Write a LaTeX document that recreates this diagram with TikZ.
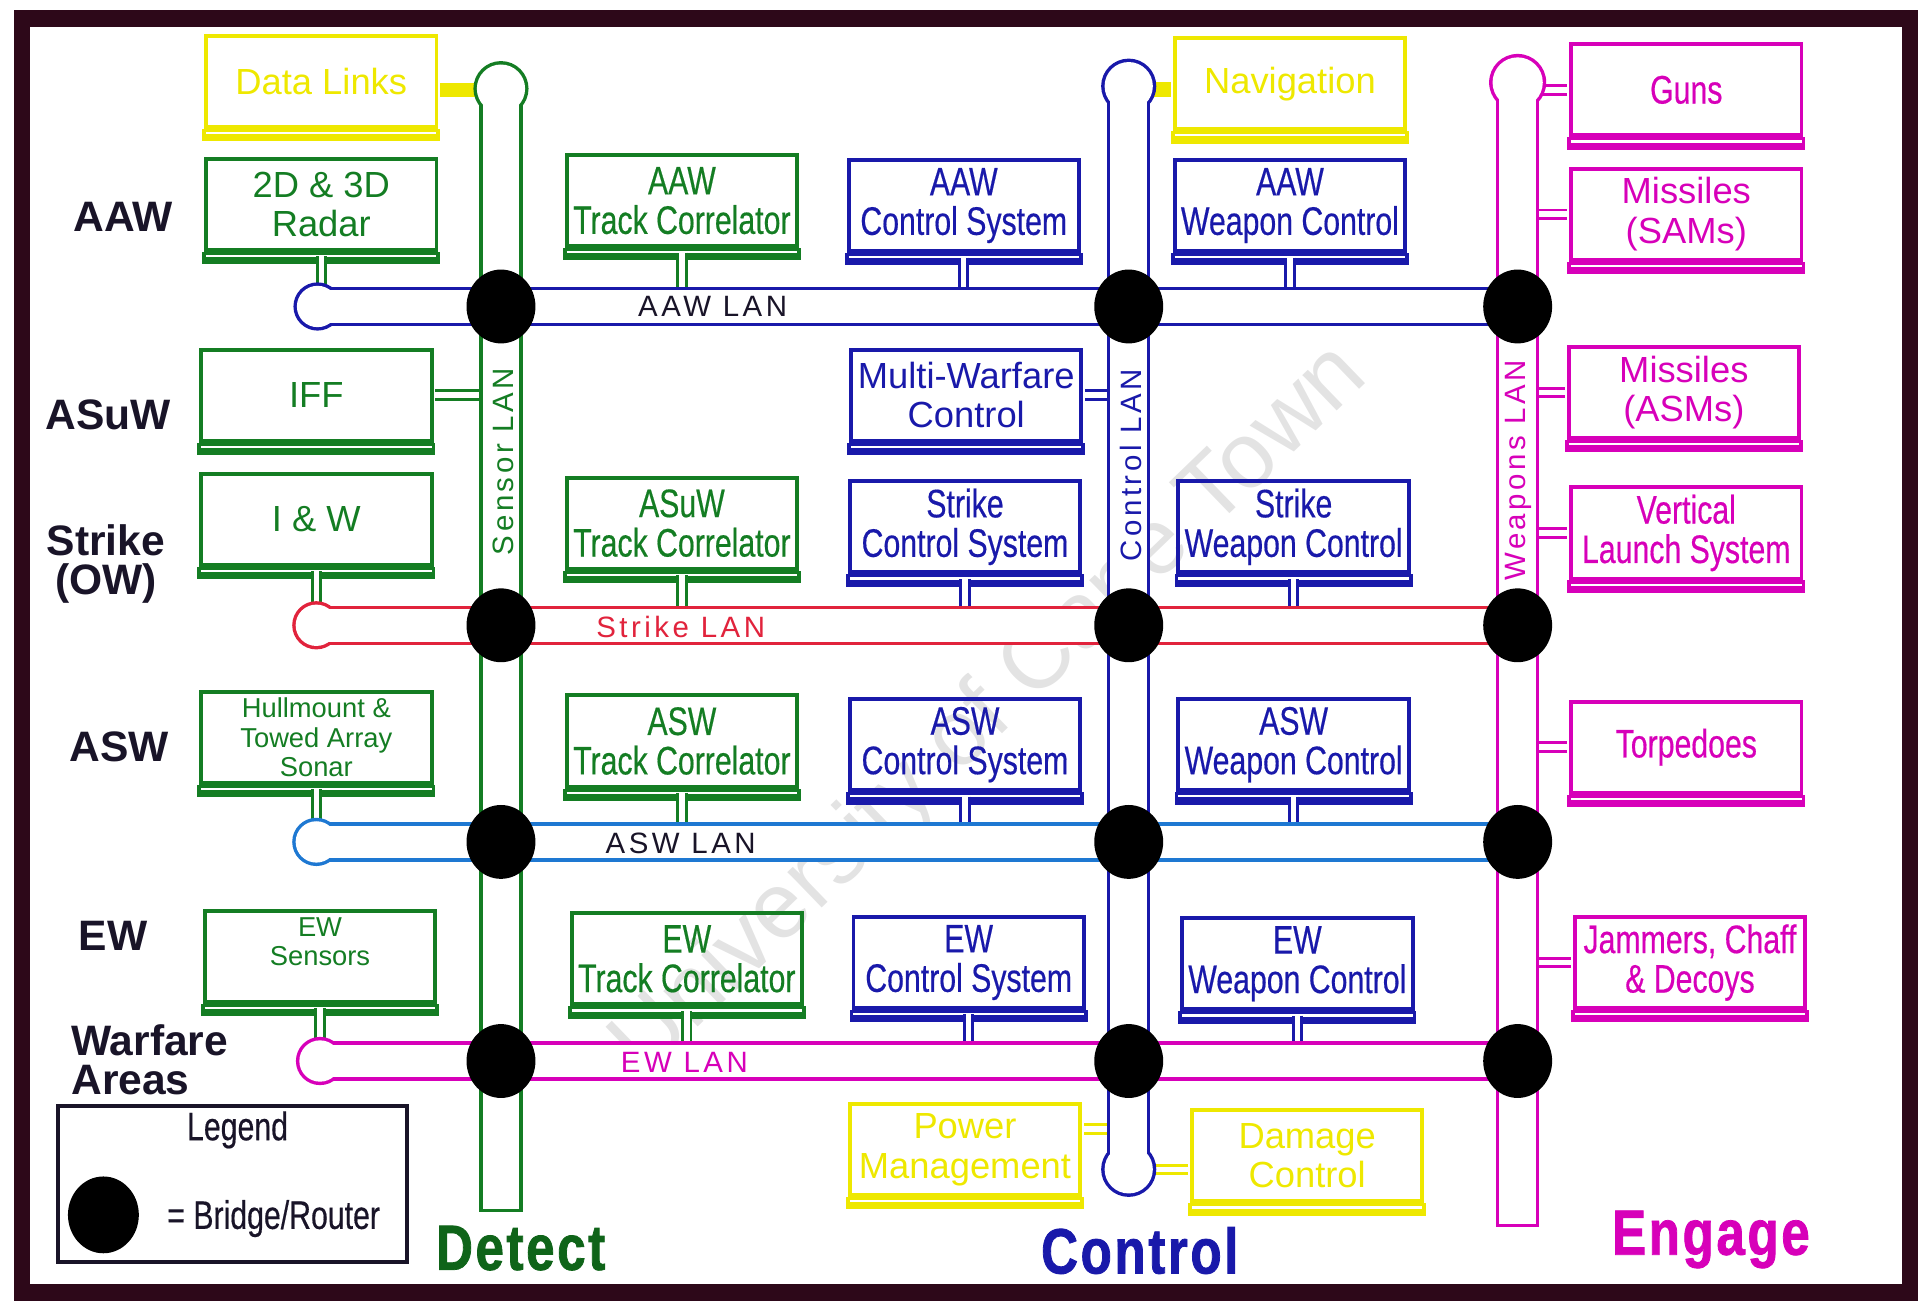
\documentclass[tikz,border=0pt]{standalone}
\usepackage{fontspec}
\setmainfont{Liberation Sans}
\newfontfamily\narrowfont[FakeStretch=0.76,FakeBold=0.4]{Liberation Sans}
\newfontfamily\lanfont[LetterSpace=12]{Liberation Sans}
\newfontfamily\headfont[FakeStretch=0.8,LetterSpace=4,FakeBold=1.2]{Liberation Sans}
\usetikzlibrary{shapes.geometric}

\definecolor{grn}{RGB}{20,125,35}
\definecolor{detgrn}{RGB}{15,100,25}
\definecolor{blu}{RGB}{25,25,170}
\definecolor{ylw}{RGB}{238,232,0}
\definecolor{mag}{RGB}{215,0,185}
\definecolor{rd}{RGB}{225,35,60}
\definecolor{ltblu}{RGB}{30,120,210}
\definecolor{ink}{RGB}{25,20,40}
\definecolor{framecol}{RGB}{45,8,25}

\newcommand\boxfont{\narrowfont\fontsize{11.5}{11.4}\selectfont}
\newcommand\bigboxfont{\normalfont\fontsize{10.5}{11.4}\selectfont}
\newcommand\smallboxfont{\normalfont\fontsize{7.9}{8.4}\selectfont}
\newcommand\rowfont{\bfseries\fontsize{12.3}{11.4}\selectfont}
\newcommand\lanfontsize{\lanfont\fontsize{8.5}{9}\selectfont}
\newcommand\colfont{\headfont\bfseries\fontsize{18.5}{20}\selectfont}

\begin{document}
\begin{tikzpicture}[x=0.125mm, y=-0.125mm,
  sysbox/.style={draw=#1, text=#1, line width=0.4mm, minimum width=23.4mm, minimum height=9.25mm,
    inner sep=1pt, align=center, font=\boxfont,
    append after command={\pgfextra{
      \fill[#1] ([xshift=-0.2mm]\tikzlastnode.south west) rectangle ([xshift=0.2mm,yshift=-1.25mm]\tikzlastnode.south east);
      \draw[white, line width=0.22mm] ([xshift=0.2mm,yshift=-0.42mm]\tikzlastnode.south west) -- ([xshift=-0.2mm,yshift=-0.42mm]\tikzlastnode.south east);}}},
  stub/.style={draw=#1, line width=0.3mm, double=white, double distance=0.55mm},
  link/.style={draw=#1, line width=1.5mm},
  hpipe/.style={draw=#1, line width=4mm},
  vpipe/.style={draw=#1, line width=4.4mm},
  pipein/.style={draw=white, line width=#1},
  router/.style={ellipse, fill=black, minimum width=7mm, minimum height=7.5mm, inner sep=0pt},
  rowlabel/.style={font=\rowfont, text=ink, align=center},
  lanlabel/.style={font=\lanfontsize, text=#1, inner sep=0pt},
  colhead/.style={font=\colfont, text=#1}
]
\useasboundingbox (0,0) rectangle (1568,1057);

% watermark
\node[text=black!11, font=\fontsize{27}{27}\selectfont, rotate=44] (wm) at (805,578) {University of Cape Town};

% frame
\draw[framecol, line width=1.65mm] (18,15) rectangle (1552,1050);

% detect column
\node[sysbox=ylw, font=\bigboxfont] (datalinks) at (261,66) {Data Links};
\node[sysbox=grn, font=\bigboxfont] (radar) at (261,166) {2D \& 3D\\Radar};
\node[sysbox=grn, font=\bigboxfont] (iff) at (257,321) {IFF};
\node[sysbox=grn, font=\bigboxfont] (iw) at (257,422) {I \& W};
\node[sysbox=grn, font=\smallboxfont] (sonar) at (257,599) {Hullmount \&\\Towed Array\\Sonar};
\node[sysbox=grn, font=\smallboxfont] (ewsens) at (260,777) {EW\\Sensors\\\mbox{}};

\node[sysbox=grn] (aawtc) at (554,163) {AAW\\Track Correlator};
\node[sysbox=grn] (asuwtc) at (554,425) {ASuW\\Track Correlator};
\node[sysbox=grn] (aswtc) at (554,602) {ASW\\Track Correlator};
\node[sysbox=grn] (ewtc) at (558,779) {EW\\Track Correlator};

% control column
\node[sysbox=blu] (aawcs) at (783,167) {AAW\\Control System};
\node[sysbox=blu, font=\bigboxfont] (mwc) at (785,321) {Multi-Warfare\\Control};
\node[sysbox=blu] (strcs) at (784,428) {Strike\\Control System};
\node[sysbox=blu] (aswcs) at (784,605) {ASW\\Control System};
\node[sysbox=blu] (ewcs) at (787,782) {EW\\Control System};
\node[sysbox=ylw, font=\bigboxfont] (power) at (784,934) {Power\\Management};

\node[sysbox=ylw, font=\bigboxfont] (nav) at (1048,68) {Navigation};
\node[sysbox=blu] (aawwc) at (1048,167) {AAW\\Weapon Control};
\node[sysbox=blu] (strwc) at (1051,428) {Strike\\Weapon Control};
\node[sysbox=blu] (aswwc) at (1051,605) {ASW\\Weapon Control};
\node[sysbox=blu] (ewwc) at (1054,783) {EW\\Weapon Control};
\node[sysbox=ylw, font=\bigboxfont] (damage) at (1062,939) {Damage\\Control};

% engage column
\node[sysbox=mag] (guns) at (1370,73) {Guns};
\node[sysbox=mag, font=\bigboxfont] (sams) at (1370,174) {Missiles\\(SAMs)};
\node[sysbox=mag, font=\bigboxfont] (asms) at (1368,319) {Missiles\\(ASMs)};
\node[sysbox=mag] (vls) at (1370,433) {Vertical\\Launch System};
\node[sysbox=mag] (torp) at (1370,607) {Torpedoes};
\node[sysbox=mag] (jam) at (1373,782) {Jammers, Chaff\\\& Decoys};

% LAN ends
\coordinate (topsen) at (407,72);
\coordinate (botsen) at (407,985);
\coordinate (topctl) at (917,70);
\coordinate (botctl) at (917,950);
\coordinate (topwpn) at (1233,67);
\coordinate (botwpn) at (1233,997);
\coordinate (lanaaw) at (258,249);
\coordinate (lanstr) at (257,508);
\coordinate (lanasw) at (257,684);
\coordinate (lanew) at (260,862);

% stubs into the LANs
\foreach \bx/\col/\lan in {radar/grn/aaw, aawtc/grn/aaw, aawcs/blu/aaw, aawwc/blu/aaw,
    iw/grn/str, asuwtc/grn/str, strcs/blu/str, strwc/blu/str,
    sonar/grn/asw, aswtc/grn/asw, aswcs/blu/asw, aswwc/blu/asw,
    ewsens/grn/ew, ewtc/grn/ew, ewcs/blu/ew, ewwc/blu/ew}
  \draw[stub=\col] ([yshift=-0.45mm]\bx.south) -- (\bx.south |- lan\lan);
\draw[stub=grn] ([xshift=0.2mm]iff.east) -- (iff.east -| topsen);
\draw[stub=blu] ([xshift=0.2mm]mwc.east) -- (mwc.east -| topctl);
\coordinate (pmstub) at ([xshift=0.2mm,yshift=2.1mm]power.east);
\draw[stub=ylw] (pmstub) -- (pmstub -| topctl);
\coordinate (dcstub) at ([xshift=-0.2mm,yshift=-1.4mm]damage.west);
\draw[stub=ylw] (dcstub) -- (dcstub -| botctl);
\foreach \bx in {guns,sams,asms,vls,torp,jam}
  \draw[stub=mag] ([xshift=-0.2mm]\bx.west) -- (\bx.west -| topwpn);
\coordinate (dlstub) at ([xshift=0.2mm,yshift=-0.9mm]datalinks.east);
\draw[link=ylw] (dlstub) -- (dlstub -| topsen);
\coordinate (navstub) at ([xshift=-0.2mm,yshift=-0.6mm]nav.west);
\draw[link=ylw] (navstub) -- (navstub -| topctl);

% vertical LANs
\fill[grn] (topsen) circle (2.8mm);
\draw[vpipe=grn] (topsen) -- (botsen);
\fill[white] (topsen) circle (2.45mm);
\draw[pipein=3.7mm] (topsen) -- ([yshift=0.35mm]botsen);

\fill[blu] (topctl) circle (2.8mm);
\fill[blu] (botctl) circle (2.8mm);
\draw[vpipe=blu] (topctl) -- (botctl);
\fill[white] (topctl) circle (2.45mm);
\fill[white] (botctl) circle (2.45mm);
\draw[pipein=3.7mm] (topctl) -- (botctl);

\fill[mag] (topwpn) circle (2.9mm);
\draw[vpipe=mag] (topwpn) -- (botwpn);
\fill[white] (topwpn) circle (2.55mm);
\draw[pipein=3.7mm] (topwpn) -- ([yshift=0.35mm]botwpn);

% horizontal LANs
\foreach \lan/\col in {aaw/blu, str/rd, asw/ltblu, ew/mag}{
  \fill[\col] (lan\lan) circle (2.45mm);
  \draw[hpipe=\col] (lan\lan) -- (topwpn |- lan\lan);
  \fill[white] (lan\lan) circle (2.1mm);
  \draw[pipein=3.3mm] (lan\lan) -- (topwpn |- lan\lan);
}

% bridges / routers
\foreach \lan in {aaw,str,asw,ew}
  \foreach \pip in {sen,ctl,wpn}
    \node[router] (\lan\pip) at (top\pip |- lan\lan) {};

% LAN names
\node[lanlabel=ink] (aawtext) at (579,249) {AAW LAN};
\node[lanlabel=rd] (strtext) at (553,509) {Strike LAN};
\node[lanlabel=ink] (aswtext) at (553,685) {ASW LAN};
\node[lanlabel=mag] (ewtext) at (556,863) {EW LAN};
\node[lanlabel=grn, rotate=90] (sentext) at (409,375) {Sensor LAN};
\node[lanlabel=blu, rotate=90] (ctltext) at (919,378) {Control LAN};
\node[lanlabel=mag, rotate=90] (wpntext) at (1234,382) {Weapons LAN};

% warfare areas
\node[rowlabel] (aawrow) at (100,176) {AAW};
\node[rowlabel] (asuwrow) at (88,337) {ASuW};
\node[rowlabel] (strrow) at (86,458) {Strike\\(OW)};
\node[rowlabel] (aswrow) at (97,607) {ASW};
\node[rowlabel] (ewrow) at (92,760) {EW};
\node[rowlabel, align=left, anchor=west] (areas) at (48,861) {Warfare\\Areas};

% legend
\node[draw=ink, line width=0.4mm, minimum width=35.5mm, minimum height=15.9mm] (legend) at (189,962) {};
\node[font=\boxfont, text=ink] (legtitle) at (193,918) {Legend};
\node[router, minimum width=7.2mm, minimum height=7.8mm] (legrouter) at (84,987) {};
\node[font=\boxfont, text=ink, anchor=west] (legtext) at (126,990) {= Bridge/Router};

% column heads
\node[colhead=detgrn] (detect) at (423,1014) {Detect};
\node[colhead=blu] (control) at (926,1016) {Control};
\node[colhead=mag] (engage) at (1390,1007) {Engage};
\end{tikzpicture}
\end{document}
